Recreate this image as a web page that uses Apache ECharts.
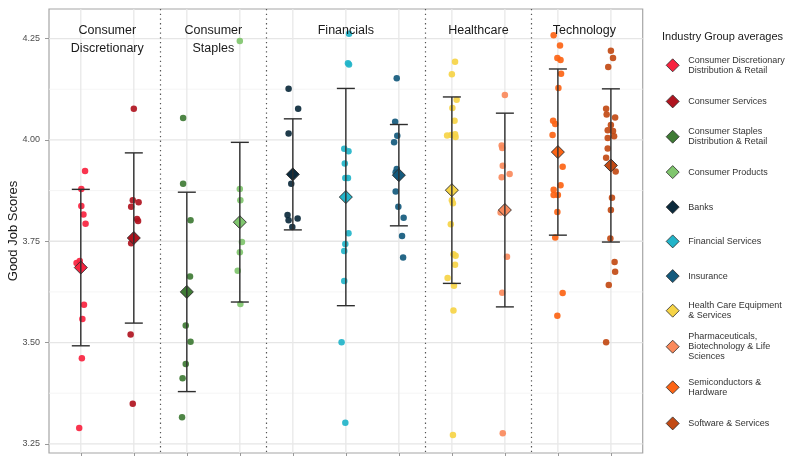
<!DOCTYPE html>
<html>
<head>
<meta charset="utf-8">
<script src="https://cdn.jsdelivr.net/npm/echarts@6/dist/echarts.min.js"></script>
<style>
  html, body { margin: 0; padding: 0; background: #ffffff; }
  #chart { width: 787px; height: 456px; }
</style>
</head>
<body>
<div id="chart"></div>
<script>
// Industry groups, in axis order
const groups = [
  'Consumer Discretionary Distribution & Retail',
  'Consumer Services',
  'Consumer Staples Distribution & Retail',
  'Consumer Products',
  'Banks',
  'Financial Services',
  'Insurance',
  'Health Care Equipment & Services',
  'Pharmaceuticals, Biotechnology & Life Sciences',
  'Semiconductors & Hardware',
  'Software & Services'
];
const legendLabels = [
  'Consumer Discretionary\nDistribution & Retail',
  'Consumer Services',
  'Consumer Staples\nDistribution & Retail',
  'Consumer Products',
  'Banks',
  'Financial Services',
  'Insurance',
  'Health Care Equipment\n& Services',
  'Pharmaceuticals,\nBiotechnology & Life\nSciences',
  'Semiconductors &\nHardware',
  'Software & Services'
];
const groupColors = [
  '#F8233F', '#B0141F', '#3F7B35', '#80C66E', '#0C2A3C', '#22B4C9',
  '#145A7D', '#F6D447', '#FA8A5C', '#FC6415', '#C24A14'
];

// Sectors and the groups they span
const sectors = ['Consumer\nDiscretionary', 'Consumer\nStaples', 'Financials', 'Healthcare', 'Technology'];
const sectorFirst = [0, 2, 4, 7, 9];
const sectorLast = [1, 3, 6, 8, 10];

// Company scores per industry group, with horizontal jitter (in category units)
const cdrScores  = [3.923, 3.879, 3.837, 3.816, 3.793, 3.701, 3.696, 3.690, 3.593, 3.558, 3.461, 3.289];
const cdrJitter  = [0.08, 0.01, 0.01, 0.05, 0.09, -0.02, -0.08, 0.00, 0.06, 0.03, 0.02, -0.03];
const csvScores  = [4.077, 3.851, 3.846, 3.835, 3.805, 3.800, 3.745, 3.520, 3.349];
const csvJitter  = [0.00, -0.02, 0.09, -0.05, 0.06, 0.08, -0.05, -0.06, -0.02];
const csdScores  = [4.054, 3.892, 3.802, 3.663, 3.542, 3.502, 3.447, 3.412, 3.316];
const csdJitter  = [-0.07, -0.07, 0.07, 0.06, -0.02, 0.07, -0.02, -0.08, -0.09];
const cpScores   = [4.244, 3.879, 3.851, 3.748, 3.723, 3.677, 3.595];
const cpJitter   = [0.00, 0.00, 0.01, 0.04, 0.00, -0.04, 0.01];
const bankScores = [4.126, 4.077, 4.016, 3.892, 3.815, 3.806, 3.802, 3.785];
const bankJitter = [-0.08, 0.10, -0.08, -0.03, -0.10, 0.09, -0.08, -0.01];
const fsScores   = [4.262, 4.189, 4.186, 3.978, 3.972, 3.942, 3.906, 3.906, 3.770, 3.743, 3.726, 3.652, 3.501, 3.302];
const fsJitter   = [0.06, 0.04, 0.06, -0.03, 0.05, -0.02, -0.01, 0.04, 0.05, -0.01, -0.03, -0.03, -0.08, -0.01];
const insScores  = [4.152, 4.045, 4.010, 3.994, 3.928, 3.920, 3.914, 3.873, 3.835, 3.808, 3.763, 3.710];
const insJitter  = [-0.04, -0.07, -0.03, -0.09, -0.04, -0.06, -0.02, -0.06, -0.01, 0.09, 0.06, 0.08];
const hceScores  = [4.193, 4.162, 4.099, 4.079, 4.047, 4.014, 4.012, 4.011, 4.007, 3.851, 3.844, 3.792, 3.718, 3.714, 3.692, 3.659, 3.640, 3.579, 3.272];
const hceJitter  = [0.06, 0.00, 0.09, 0.01, 0.05, 0.06, -0.01, -0.09, 0.07, 0.00, 0.02, -0.02, 0.03, 0.07, 0.06, -0.08, 0.04, 0.03, 0.02];
const phScores   = [4.111, 3.986, 3.980, 3.936, 3.916, 3.908, 3.821, 3.712, 3.623, 3.276];
const phJitter   = [0.00, -0.06, -0.05, -0.04, 0.09, -0.06, -0.08, 0.04, -0.05, -0.04];
const semiScores = [4.258, 4.233, 4.202, 4.197, 4.163, 4.128, 4.047, 4.039, 4.012, 3.934, 3.888, 3.877, 3.864, 3.864, 3.822, 3.759, 3.622, 3.566];
const semiJitter = [-0.08, 0.04, -0.01, 0.05, 0.06, 0.01, -0.09, -0.05, -0.10, 0.09, 0.05, -0.08, -0.08, 0.00, -0.01, -0.05, 0.09, -0.01];
const swScores   = [4.220, 4.202, 4.180, 4.077, 4.063, 4.055, 4.037, 4.024, 4.022, 4.009, 4.005, 3.979, 3.956, 3.922, 3.857, 3.827, 3.757, 3.699, 3.675, 3.642, 3.501];
const swJitter   = [0.00, 0.04, -0.05, -0.09, -0.08, 0.08, 0.00, -0.06, 0.04, 0.06, -0.06, -0.06, -0.09, 0.09, 0.02, 0.00, -0.01, 0.07, 0.08, -0.04, -0.09];

// Group averages and standard deviations
const groupMeans = [3.685, 3.758, 3.625, 3.797, 3.915, 3.859, 3.913, 3.876, 3.827, 3.970, 3.937];
const groupSDs   = [0.193, 0.210, 0.246, 0.197, 0.137, 0.268, 0.125, 0.230, 0.239, 0.205, 0.189];

// Y axis
const yMin = 3.2275, yMax = 4.323;
const yTicks = [3.25, 3.50, 3.75, 4.00, 4.25];
const yMinorTicks = [3.375, 3.625, 3.875, 4.125];

const groupScores = [cdrScores, csvScores, csdScores, cpScores, bankScores, fsScores, insScores, hceScores, phScores, semiScores, swScores];
const groupJitter = [cdrJitter, csvJitter, csdJitter, cpJitter, bankJitter, fsJitter, insJitter, hceJitter, phJitter, semiJitter, swJitter];

const FONT = '"Liberation Sans", Arial, Helvetica, sans-serif';
const chart = echarts.init(document.getElementById('chart'), null, { renderer: 'canvas' });

const series = [];

// Horizontal grid lines (major + minor)
series.push({
  type: 'custom', silent: true, z: 0,
  data: yTicks.map(v => [v, 1]).concat(yMinorTicks.map(v => [v, 0])),
  encode: { y: 0 },
  renderItem: function (params, api) {
    const cs = params.coordSys;
    const y = api.coord([0, api.value(0)])[1];
    const major = api.value(1) === 1;
    return {
      type: 'line',
      shape: { x1: cs.x, y1: y, x2: cs.x + cs.width, y2: y },
      style: { stroke: major ? '#e6e6e6' : '#f2f2f2', lineWidth: major ? 1.3 : 0.8 }
    };
  }
});

// Vertical grid lines at each group
series.push({
  type: 'custom', silent: true, z: 0,
  data: groups.map((g, i) => [i]),
  encode: { x: 0 },
  renderItem: function (params, api) {
    const cs = params.coordSys;
    const x = api.coord([api.value(0), yMin])[0];
    return {
      type: 'line',
      shape: { x1: x, y1: cs.y, x2: x, y2: cs.y + cs.height },
      style: { stroke: '#e8e8e8', lineWidth: 1.3 }
    };
  }
});

// Dotted sector dividers
series.push({
  type: 'custom', silent: true, z: 1,
  data: sectorLast.slice(0, sectorLast.length - 1).map(v => [v + 0.5]),
  encode: { x: 0 },
  renderItem: function (params, api) {
    const cs = params.coordSys;
    const x = Math.round(api.coord([api.value(0), yMin])[0]) + 0.5;
    return {
      type: 'line',
      shape: { x1: x, y1: cs.y, x2: x, y2: cs.y + cs.height },
      style: { stroke: '#555555', lineWidth: 1.2, lineDash: [1.3, 3.4] }
    };
  }
});

// Company points
groups.forEach((name, i) => {
  series.push({
    name: name,
    type: 'scatter',
    z: 3,
    symbol: 'circle',
    symbolSize: 6.5,
    itemStyle: { color: groupColors[i], opacity: 0.92 },
    data: groupScores[i].map((v, k) => [i + groupJitter[i][k], v])
  });
});

// Group averages (diamonds)
groups.forEach((name, i) => {
  series.push({
    name: name,
    type: 'scatter',
    z: 4,
    symbol: 'diamond',
    symbolSize: 13,
    itemStyle: { color: groupColors[i], borderColor: '#2b2b2b', borderWidth: 0.9, opacity: 1 },
    data: [[i, groupMeans[i]]]
  });
});

// Error bars: mean ± one standard deviation
series.push({
  type: 'custom', silent: true, z: 5,
  data: groupMeans.map((m, i) => [i, m - groupSDs[i], m + groupSDs[i]]),
  encode: { x: 0, y: [1, 2] },
  renderItem: function (params, api) {
    const lo = api.coord([api.value(0), api.value(1)]);
    const hi = api.coord([api.value(0), api.value(2)]);
    const half = 9;
    const st = { stroke: '#2e2e2e', lineWidth: 1.4 };
    return {
      type: 'group',
      children: [
        { type: 'line', shape: { x1: lo[0], y1: lo[1], x2: hi[0], y2: hi[1] }, style: st },
        { type: 'line', shape: { x1: hi[0] - half, y1: hi[1], x2: hi[0] + half, y2: hi[1] }, style: st },
        { type: 'line', shape: { x1: lo[0] - half, y1: lo[1], x2: lo[0] + half, y2: lo[1] }, style: st }
      ]
    };
  }
});

// Sector titles across the top of the panel
series.push({
  type: 'custom', silent: true, z: 6,
  data: sectors.map((s, i) => [(sectorFirst[i] + sectorLast[i]) / 2, i]),
  encode: { x: 0 },
  renderItem: function (params, api) {
    const cs = params.coordSys;
    const x = api.coord([api.value(0), yMax])[0];
    return {
      type: 'text',
      x: x, y: cs.y + 13,
      style: {
        text: sectors[api.value(1)],
        align: 'center', verticalAlign: 'top',
        fontSize: 12.5, lineHeight: 18, fontFamily: FONT, fill: '#1a1a1a'
      }
    };
  }
});

// One legend block per group so each sits at its own row
const legendCenters = [65.3, 101, 136.7, 171.7, 206.7, 241, 275.7, 310.7, 346.7, 387.3, 423];
const legends = groups.map((name, i) => {
  const lines = legendLabels[i].split('\n').length;
  const half = Math.max(6.5, lines * 5);
  return {
    orient: 'vertical',
    left: 665.8,
    top: legendCenters[i] - half,
    padding: 0,
    itemWidth: 13,
    itemHeight: 13,
    selectedMode: false,
    icon: 'diamond',
    itemStyle: { borderColor: '#2b2b2b', borderWidth: 0.8, opacity: 1 },
    textStyle: { fontSize: 9, lineHeight: 10, fontFamily: FONT, color: '#333333', padding: [0, 0, 0, 4] },
    formatter: function (n) { return legendLabels[groups.indexOf(n)]; },
    data: [name]
  };
});

chart.setOption({
  animation: false,
  backgroundColor: '#ffffff',
  textStyle: { fontFamily: FONT },
  title: {
    text: 'Industry Group averages',
    left: 662, top: 31, padding: 0,
    textStyle: { fontSize: 11, fontWeight: 'normal', color: '#1a1a1a', fontFamily: FONT }
  },
  legend: legends,
  grid: {
    left: 49, top: 9, right: 144.3, bottom: 3,
    containLabel: false,
    outerBoundsMode: 'none',
    show: true, borderColor: '#a6a6a6', borderWidth: 1.2, backgroundColor: '#ffffff'
  },
  xAxis: {
    type: 'value',
    min: -0.6, max: 10.6,
    axisLine: { show: false, onZero: false },
    splitLine: { show: false },
    axisLabel: { show: false },
    axisTick: { show: true, length: 3, lineStyle: { color: '#999999' }, customValues: groups.map((g, i) => i) }
  },
  yAxis: {
    type: 'value',
    min: yMin, max: yMax,
    name: 'Good Job Scores',
    nameLocation: 'middle',
    nameGap: 29,
    nameMoveOverlap: false,
    nameTextStyle: { fontSize: 13, color: '#1a1a1a', fontFamily: FONT },
    axisLine: { show: false, onZero: false },
    splitLine: { show: false },
    axisTick: { show: true, length: 4, lineStyle: { color: '#999999', width: 1 }, customValues: yTicks },
    axisLabel: {
      show: true, margin: 9, fontSize: 9, color: '#4d4d4d', fontFamily: FONT,
      customValues: yTicks,
      formatter: function (v) { return v.toFixed(2); }
    }
  },
  series: series
});
</script>
</body>
</html>
